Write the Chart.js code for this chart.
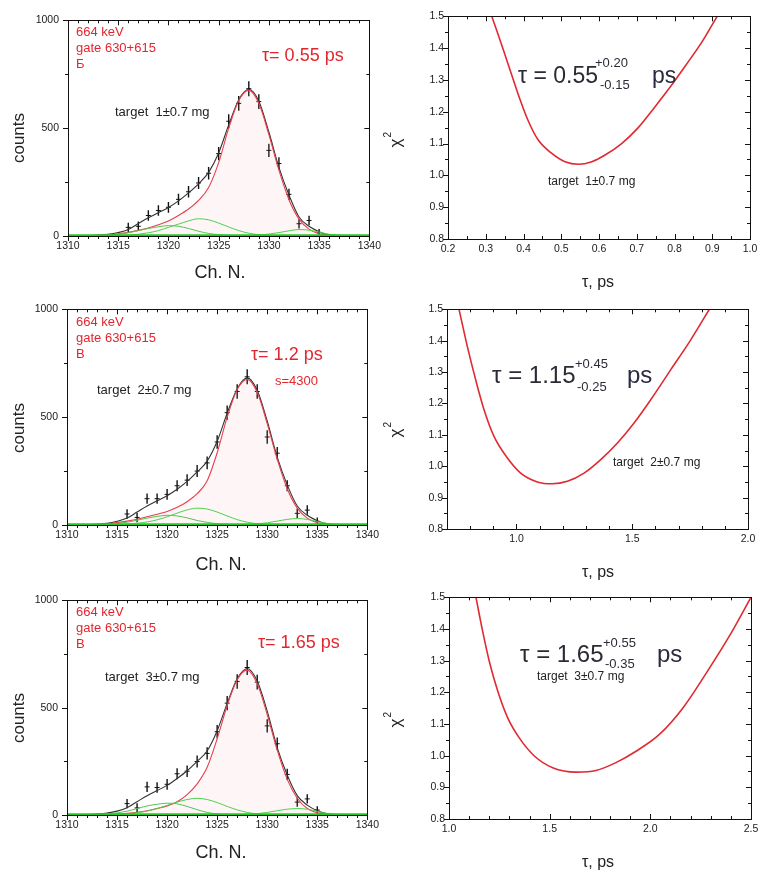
<!DOCTYPE html>
<html>
<head>
<meta charset="utf-8">
<script src="https://cdn.jsdelivr.net/npm/chart.js@4.4.1/dist/chart.umd.min.js"></script>
<style>
  body { margin: 0; background: #fff; width: 760px; height: 876px; overflow: hidden; position: relative; }
  canvas { position: absolute; }
</style>
</head>
<body>
<canvas id="specA"></canvas>
<canvas id="chiA"></canvas>
<canvas id="specB"></canvas>
<canvas id="chiB"></canvas>
<canvas id="specC"></canvas>
<canvas id="chiC"></canvas>
<script>
// ---- spectra (channel / counts) ----
const spectrumCh = [1316,1317,1318,1319,1320,1321,1322,1323,1324,1325,1326,1327,1328,1329,1330,1331,1332,1333,1334,1335]
const countsA = [40,45,95,118,133,170,205,246,291,382,532,615,683,623,397,336,193,57,72,15]
const countsB = [51,35,122,122,142,182,208,250,288,385,521,619,687,619,408,333,182,54,69,17]
const countsC = [53,33,131,128,143,192,204,249,287,388,521,622,687,619,415,332,189,60,75,23]
const countErr = [22,22,24,24,25,26,27,28,29,31,33,34,35,34,31,29,26,22,22,18]

const fitCh = [1310,1312,1314,1315,1316,1317,1318,1319,1320,1321,1322,1323,1324,1325,1326,1327,1328,1329,1330,1331,1332,1333,1334,1335,1336,1338,1340]
const totalA = [0,2,8,16,30,58,85,108,132,163,200,242,295,385,515,632,680,625,482,318,190,88,45,20,6,1,0]
const peakA  = [0,1,5,10,17,26,37,52,70,95,125,165,225,340,500,628,675,615,470,305,168,78,32,10,3,0,0]
const compA1 = [0,0,1,2,4,8,15,25,40,55,70,80,75,60,42,25,13,6,2,1,0,0,0,0,0,0,0]
const compA2 = [0,1,4,8,15,25,35,43,48,45,35,22,12,6,3,1,0,0,0,0,0,0,0,0,0,0,0]
const compA3 = [0,0,0,0,0,0,0,0,0,0,0,0,0,0,0,1,2,4,9,16,24,30,27,18,8,1,0]

const totalB = [0,2,8,17,32,60,88,112,136,166,202,246,296,388,518,632,682,625,482,315,186,88,45,20,6,1,0]
const peakB  = [0,2,6,11,18,27,38,50,63,82,108,145,205,335,500,628,675,615,470,305,168,78,32,10,3,0,0]
const compB1 = [0,0,1,2,4,8,14,24,38,55,70,78,74,60,42,25,13,6,2,1,0,0,0,0,0,0,0]
const compB2 = [0,1,3,7,13,22,32,40,45,42,33,21,12,6,3,1,0,0,0,0,0,0,0,0,0,0,0]
const compB3 = [0,0,0,0,0,0,0,0,0,0,0,0,0,0,0,1,2,5,10,18,26,30,26,16,7,1,0]

const totalC = [0,2,9,18,34,62,90,114,138,170,206,250,298,392,520,634,682,624,484,314,186,90,46,20,6,1,0]
const peakC  = [0,0,2,4,8,13,20,30,42,62,95,145,222,355,510,630,675,612,468,302,166,78,30,10,3,0,0]
const compC1 = [0,0,1,2,5,10,18,30,45,60,72,78,72,58,40,24,12,5,2,1,0,0,0,0,0,0,0]
const compC2 = [0,1,5,10,18,30,42,50,55,52,40,25,12,5,2,1,0,0,0,0,0,0,0,0,0,0,0]
const compC3 = [0,0,0,0,0,0,0,0,0,0,0,0,0,0,0,1,3,6,12,20,27,30,27,17,7,1,0]

const bgCh = [1310, 1340]
const bgCounts = [4, 4]

// ---- chi2 vs tau ----
const tauA = [0.316,0.347,0.369,0.391,0.413,0.439,0.475,0.510,0.545,0.581,0.616,0.660,0.704,0.748,0.792,0.828,0.872,0.913]
const chiA = [1.50,1.393,1.315,1.238,1.170,1.111,1.069,1.043,1.035,1.043,1.064,1.100,1.150,1.215,1.283,1.343,1.418,1.50]
const tauB = [0.752,0.788,0.824,0.860,0.903,0.961,1.018,1.090,1.155,1.220,1.292,1.364,1.436,1.507,1.580,1.666,1.752,1.833]
const chiB = [1.50,1.381,1.275,1.180,1.095,1.026,0.978,0.950,0.944,0.952,0.978,1.021,1.074,1.137,1.212,1.307,1.402,1.50]
const tauC = [1.134,1.167,1.200,1.242,1.291,1.349,1.424,1.515,1.631,1.730,1.829,1.929,2.045,2.161,2.277,2.393,2.50]
const chiC = [1.50,1.393,1.298,1.204,1.120,1.056,0.999,0.962,0.948,0.953,0.978,1.014,1.067,1.150,1.260,1.378,1.50]

// ---- tick labels ----
const chTicks = [1310,1315,1320,1325,1330,1335,1340]
const countTicks = [0,500,1000]
const chiTicks = [0.8,0.9,1.0,1.1,1.2,1.3,1.4,1.5]
const tauTicksA = [0.2,0.3,0.4,0.5,0.6,0.7,0.8,0.9,1.0]
const tauTicksB = [1.0,1.5,2.0]
const tauTicksC = [1.0,1.5,2.0,2.5]

const FONT = '"Liberation Sans", Arial, sans-serif'
const RED = '#e3262e'
const PAD_L = 66, PAD_B = 52, PAD_T = 10, PAD_R = 14

const pairs = (xs, ys) => xs.map((x, i) => ({ x: x, y: ys[i] }))
const errBars = (xs, ys, es) => xs.flatMap((x, i) => [{ x: x, y: ys[i] - es[i] }, { x: x, y: ys[i] + es[i] }, { x: x, y: null }])

function line(data, color, width) {
  return { data: data, showLine: true, borderColor: color, borderWidth: width, pointRadius: 0,
           spanGaps: false, cubicInterpolationMode: 'monotone' }
}

function spectrumSets(counts, total, peak, c1, c2, c3) {
  const peakLine = line(pairs(fitCh, peak), '#e5404c', 1.1)
  peakLine.fill = 'origin'
  peakLine.backgroundColor = 'rgba(240,140,160,0.09)'
  return [
    line(pairs(bgCh, bgCounts), '#22c922', 2),
    line(pairs(fitCh, c2), '#55c455', 1),
    line(pairs(fitCh, c1), '#4cd24c', 1),
    line(pairs(fitCh, c3), '#4cd24c', 1),
    peakLine,
    line(pairs(fitCh, total), '#333', 1.1),
    { data: errBars(spectrumCh, counts, countErr), showLine: true, borderColor: '#111', borderWidth: 1.4,
      pointRadius: 0, spanGaps: false },
    { data: pairs(spectrumCh, counts), showLine: false, pointStyle: 'line', pointRadius: 2.5,
      borderColor: '#111', borderWidth: 1 }
  ]
}

function makePanel(p) {
  const cv = document.getElementById(p.id)
  const W = p.area.r - p.area.l + PAD_L + PAD_R
  const H = p.area.b - p.area.t + PAD_T + PAD_B
  const ox = p.area.l - PAD_L, oy = p.area.t - PAD_T
  cv.width = W; cv.height = H
  cv.style.left = ox + 'px'; cv.style.top = oy + 'px'
  cv.style.width = W + 'px'; cv.style.height = H + 'px'

  const decor = {
    id: 'decor',
    afterDraw(chart) {
      const ctx = chart.ctx, a = chart.chartArea, sx = chart.scales.x, sy = chart.scales.y
      ctx.save()
      ctx.strokeStyle = '#111'; ctx.lineWidth = 1
      ctx.strokeRect(Math.round(a.left) + 0.5, Math.round(a.top) + 0.5, Math.round(a.right - a.left), Math.round(a.bottom - a.top))
      const xs = [], ys = []
      for (let v = p.x[0]; v <= p.x[1] + 1e-9; v += p.xMinor) xs.push(+v.toFixed(4))
      for (let v = p.y[0]; v <= p.y[1] + 1e-9; v += p.yMinor) ys.push(+v.toFixed(4))
      const isMajor = (list, v) => list.some(t => Math.abs(t - v) < 1e-6)
      ctx.beginPath()
      xs.forEach(v => {
        const px = Math.round(sx.getPixelForValue(v)) + 0.5
        const len = isMajor(p.xTicks, v) ? 5 : 3
        const dir = p.xOut ? 1 : -1
        ctx.moveTo(px, a.bottom); ctx.lineTo(px, a.bottom + dir * len)
        ctx.moveTo(px, a.top); ctx.lineTo(px, a.top + len)
      })
      ys.forEach(v => {
        const py = Math.round(sy.getPixelForValue(v)) + 0.5
        const len = isMajor(p.yTicks, v) ? 5 : 3
        ctx.moveTo(a.left, py); ctx.lineTo(a.left - len, py)
        ctx.moveTo(a.right, py); ctx.lineTo(a.right - len, py)
      })
      ctx.stroke()

      // texts, page coordinates
      p.texts.forEach(t => {
        ctx.save()
        ctx.fillStyle = t.color || '#222'
        ctx.font = (t.weight || '') + ' ' + t.size + 'px ' + FONT
        ctx.textBaseline = t.base || 'middle'
        ctx.textAlign = t.align || 'left'
        const x = t.x - ox, y = t.y - oy
        if (t.rot) {
          ctx.translate(x, y); ctx.rotate(-Math.PI / 2)
          ctx.textAlign = 'center'
          ctx.fillText(t.text, 0, 0)
          if (t.sup) {
            const w = ctx.measureText(t.text).width
            ctx.font = Math.round(t.size * 0.6) + 'px ' + FONT
            ctx.textAlign = 'left'
            ctx.fillText(t.sup, w / 2 + 1, -t.size * 0.45)
          }
        } else {
          ctx.fillText(t.text, x, y)
        }
        ctx.restore()
      })
      ctx.restore()
    }
  }

  new Chart(cv, {
    type: 'scatter',
    data: { datasets: p.datasets },
    options: {
      responsive: false,
      animation: false,
      events: [],
      layout: { padding: { left: 0, top: PAD_T, right: PAD_R, bottom: 0 } },
      plugins: { legend: { display: false }, tooltip: { enabled: false } },
      scales: {
        x: {
          type: 'linear', min: p.x[0], max: p.x[1],
          grid: { display: false, drawTicks: false }, border: { display: false },
          ticks: { padding: 4, color: '#1a1a1a', font: { family: FONT, size: 10.5 }, maxRotation: 0, autoSkip: false,
                   callback: v => p.fmtX(v) },
          afterBuildTicks: s => { s.ticks = p.xTicks.map(v => ({ value: v })) },
          afterFit: s => { s.height = PAD_B }
        },
        y: {
          type: 'linear', min: p.y[0], max: p.y[1],
          grid: { display: false, drawTicks: false }, border: { display: false },
          ticks: { padding: p.yPad, color: '#1a1a1a', font: { family: FONT, size: 10.5 }, autoSkip: false,
                   callback: v => p.fmtY(v) },
          afterBuildTicks: s => { s.ticks = p.yTicks.map(v => ({ value: v })) },
          afterFit: s => { s.width = PAD_L }
        }
      }
    },
    plugins: [decor]
  })
}

const fmtInt = v => String(Math.round(v))
const fmt1 = v => v.toFixed(1)

function specTexts(dy, tauText, tauX, tauY, targetText, tx, ty, third, extra) {
  const t = [
    { text: '664 keV', x: 76, y: dy + 32, size: 13, color: RED },
    { text: 'gate 630+615', x: 76, y: dy + 48, size: 13, color: RED },
    { text: third, x: 76, y: dy + 64, size: 13, color: RED },
    { text: tauText, x: tauX, y: tauY, size: 18, color: RED },
    { text: targetText, x: tx, y: ty, size: 13, color: '#222' },
    { text: 'counts', x: 19, y: dy + 138, size: 17, rot: true, color: '#222' }
  ]
  return t.concat(extra || [])
}

function chiTexts(main, mx, base, size, sup, supX, supBase, sub, subX, subBase, psX, target, tx, ty, dy) {
  return [
    { text: main, x: mx, y: base, size: size, base: 'alphabetic', color: '#2b2b35' },
    { text: sup, x: supX, y: supBase, size: 13, base: 'alphabetic', color: '#2b2b35' },
    { text: sub, x: subX, y: subBase, size: 13, base: 'alphabetic', color: '#2b2b35' },
    { text: 'ps', x: psX, y: base, size: size, base: 'alphabetic', color: '#2b2b40' },
    { text: target, x: tx, y: ty, size: 12, color: '#222' },
    { text: 'χ', sup: '2', x: 396, y: dy + 143, size: 17, rot: true, color: '#222' }
  ]
}

// ---- left column: spectra ----
makePanel({
  id: 'specA', area: { l: 68, t: 15, r: 371, b: 236 }, x: [1310, 1340], y: [0, 1000],
  xTicks: chTicks, yTicks: countTicks, xMinor: 1, yMinor: 250, xOut: true, yPad: 9, fmtX: fmtInt, fmtY: fmtInt,
  datasets: spectrumSets(countsA, totalA, peakA, compA1, compA2, compA3),
  texts: specTexts(0, 'τ= 0.55 ps', 262, 56, 'target  1±0.7 mg', 115, 112, 'Б',
    [{ text: 'Ch. N.', x: 220, y: 273, size: 18, align: 'center', color: '#222' }])
})
makePanel({
  id: 'specB', area: { l: 67, t: 304, r: 369, b: 525 }, x: [1310, 1340], y: [0, 1000],
  xTicks: chTicks, yTicks: countTicks, xMinor: 1, yMinor: 250, xOut: true, yPad: 9, fmtX: fmtInt, fmtY: fmtInt,
  datasets: spectrumSets(countsB, totalB, peakB, compB1, compB2, compB3),
  texts: specTexts(290, 'τ= 1.2 ps', 251, 355, 'target  2±0.7 mg', 97, 390, 'B',
    [{ text: 's=4300', x: 275, y: 381, size: 13, color: RED },
     { text: 'Ch. N.', x: 221, y: 565, size: 18, align: 'center', color: '#222' }])
})
makePanel({
  id: 'specC', area: { l: 67, t: 595, r: 369, b: 815 }, x: [1310, 1340], y: [0, 1000],
  xTicks: chTicks, yTicks: countTicks, xMinor: 1, yMinor: 250, xOut: true, yPad: 9, fmtX: fmtInt, fmtY: fmtInt,
  datasets: spectrumSets(countsC, totalC, peakC, compC1, compC2, compC3),
  texts: specTexts(580, 'τ= 1.65 ps', 258, 643, 'target  3±0.7 mg', 105, 677, 'B',
    [{ text: 'Ch. N.', x: 221, y: 853, size: 18, align: 'center', color: '#222' }])
})

// ---- right column: chi2 ----
makePanel({
  id: 'chiA', area: { l: 448, t: 16, r: 750, b: 239 }, x: [0.2, 1.0], y: [0.8, 1.5],
  xTicks: tauTicksA, yTicks: chiTicks, xMinor: 0.05, yMinor: 0.05, xOut: false, yPad: 4, fmtX: fmt1, fmtY: fmt1,
  datasets: [line(pairs(tauA, chiA), '#df2a32', 1.6)],
  texts: chiTexts('τ = 0.55', 518, 83, 23, '+0.20', 595, 67, '-0.15', 600, 89, 652, 'target  1±0.7 mg', 548, 182, 0)
    .concat([{ text: 'τ, ps', x: 598, y: 283, size: 16, align: 'center', color: '#222' }])
})
makePanel({
  id: 'chiB', area: { l: 447, t: 309, r: 748, b: 529 }, x: [0.7, 2.0], y: [0.8, 1.5],
  xTicks: tauTicksB, yTicks: chiTicks, xMinor: 0.1, yMinor: 0.05, xOut: false, yPad: 4, fmtX: fmt1, fmtY: fmt1,
  datasets: [line(pairs(tauB, chiB), '#df2a32', 1.6)],
  texts: chiTexts('τ = 1.15', 492, 383, 24, '+0.45', 575, 368, '-0.25', 577, 391, 627, 'target  2±0.7 mg', 613, 463, 290)
    .concat([{ text: 'τ, ps', x: 598, y: 573, size: 16, align: 'center', color: '#222' }])
})
makePanel({
  id: 'chiC', area: { l: 449, t: 597, r: 751, b: 819 }, x: [1.0, 2.5], y: [0.8, 1.5],
  xTicks: tauTicksC, yTicks: chiTicks, xMinor: 0.1, yMinor: 0.05, xOut: false, yPad: 4, fmtX: fmt1, fmtY: fmt1,
  datasets: [line(pairs(tauC, chiC), '#df2a32', 1.6)],
  texts: chiTexts('τ = 1.65', 520, 662, 24, '+0.55', 603, 647, '-0.35', 605, 668, 657, 'target  3±0.7 mg', 537, 677, 580)
    .concat([{ text: 'τ, ps', x: 598, y: 863, size: 16, align: 'center', color: '#222' }])
})
</script>
</body>
</html>
